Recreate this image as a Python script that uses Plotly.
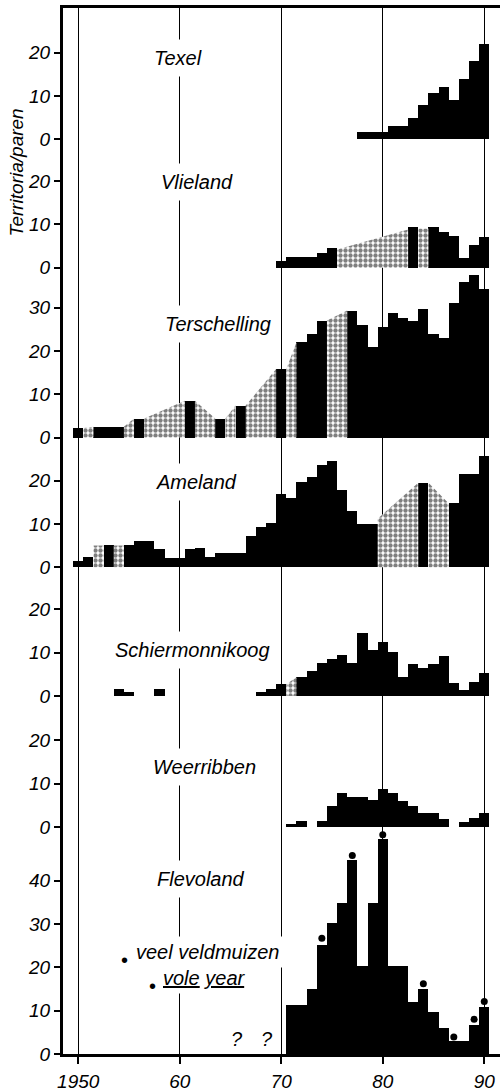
import plotly.graph_objects as go

# ---------------- data (territories / pairs per year) ----------------
texel_years = list(range(1978, 1991))
texel_values = [1.8, 1.8, 1.8, 3, 3, 5, 8, 10.6, 12, 9, 14, 18, 22]
texel_stipple = []

vlieland_years = [1970, 1971, 1972, 1973, 1974, 1975, 1983, 1985, 1986, 1987, 1988, 1989, 1990]
vlieland_values = [1.5, 2.4, 2.4, 2.4, 3.3, 4.6, 9.3, 9.3, 8.3, 7.2, 2.2, 5.2, 7.0]
vlieland_stipple = [(1975.5, 4.2, 1982.5, 8.8), (1983.5, 9.0, 1984.5, 9.0)]

terschelling_years = [1950, 1952, 1953, 1954, 1956, 1961, 1964, 1966, 1970, 1972, 1973, 1974,
                      1977, 1978, 1979, 1980, 1981, 1982, 1983, 1984, 1985, 1986, 1987, 1988, 1989, 1990]
terschelling_values = [2.2, 2.5, 2.5, 2.5, 4.4, 8.5, 4.4, 7.4, 15.8, 22, 24, 27,
                       29.3, 26, 21, 25.5, 28.7, 27.5, 26.8, 29.6, 24, 23, 31, 35.8, 37.4, 34.3]
terschelling_stipple = [(1950.5, 2.2, 1951.5, 2.5), (1954.5, 2.5, 1955.5, 4.4),
                        (1956.5, 4.4, 1960.5, 8.5), (1961.5, 8.5, 1963.5, 4.4),
                        (1964.5, 4.4, 1965.5, 7.4), (1966.5, 7.4, 1969.5, 15.8),
                        (1970.5, 15.8, 1971.5, 22), (1974.5, 27, 1976.5, 29.3)]

ameland_years = [1950, 1951, 1953, 1955, 1956, 1957, 1958, 1959, 1960, 1961, 1962, 1963, 1964, 1965,
                 1966, 1967, 1968, 1969, 1970, 1971, 1972, 1973, 1974, 1975, 1976, 1977, 1978, 1979,
                 1984, 1987, 1988, 1989, 1990]
ameland_values = [1.5, 2.4, 5.2, 5.1, 6.1, 6.1, 4.2, 2.2, 2.2, 4.2, 4.4, 2.4, 3.3, 3.3,
                  3.3, 7.2, 9.2, 10.3, 17, 16, 19.7, 20.8, 23.5, 24.5, 17.7, 12.9, 10, 10,
                  19.5, 14.7, 21.5, 21.5, 25.6]
ameland_stipple = [(1951.5, 5.0, 1952.5, 5.0), (1953.5, 5.0, 1954.5, 5.0),
                   (1979.5, 11.2, 1983.5, 19.5), (1984.5, 19.5, 1986.5, 14.7)]

schier_years = [1954, 1955, 1958, 1968, 1969, 1970, 1972, 1973, 1974, 1975, 1976, 1977, 1978, 1979,
                1980, 1981, 1982, 1983, 1984, 1985, 1986, 1987, 1988, 1989, 1990]
schier_values = [1.5, 0.8, 1.6, 0.9, 1.5, 2.7, 4.3, 5.8, 7.7, 8.5, 9.5, 7.5, 14.5, 10.6,
                 12.5, 10.2, 4.3, 7.3, 6.4, 7.3, 9.2, 3.1, 1.4, 3.2, 5.2]
schier_stipple = [(1970.5, 2.7, 1971.5, 4.3)]

weer_years = [1971, 1972, 1974, 1975, 1976, 1977, 1978, 1979, 1980, 1981, 1982, 1983, 1984, 1985,
              1986, 1988, 1989, 1990]
weer_values = [0.6, 1.4, 1.4, 4.8, 7.9, 6.9, 6.9, 6.2, 8.8, 7.9, 6.0, 4.8, 3.1, 3.1,
               1.8, 1.1, 2.1, 3.1]
weer_stipple = []

flevo_years = list(range(1971, 1991))
flevo_values = [11.3, 11.3, 15, 25.2, 30.2, 34.8, 44.7, 20.2, 34.8, 49.6, 20.2, 20.2, 12.1, 15,
                9.8, 5.9, 2.9, 2.9, 6.7, 10.9]
flevo_stipple = []

vole_years = [1974, 1977, 1980, 1984, 1987, 1989, 1990]
vole_values = [26.7, 45.8, 50.6, 16.2, 3.9, 8.0, 12.1]

panel_names = ["Texel", "Vlieland", "Terschelling", "Ameland", "Schiermonnikoog", "Weerribben", "Flevoland"]
panel_ticks = [[0, 10, 20], [0, 10, 20], [0, 10, 20, 30], [0, 10, 20], [0, 10, 20], [0, 10, 20],
               [0, 10, 20, 30, 40]]
x_tick_years = [1950, 1960, 1970, 1980, 1990]
x_tick_labels = ["1950", "60", "70", "80", "90"]

# ---------------- layout of the stacked panels (one shared value scale) ----------------
panel_base = [211.0, 181.4, 142.2, 112.3, 82.6, 52.4, 0.0]
label_pos = [(1959.85, 18.8), (1961.7, 19.8), (1963.8, 26.2), (1961.7, 19.6),
             (1961.3, 10.6), (1962.4, 13.8), (1962.1, 40.4)]
Y_TOP = 241.3
X_RANGE = [1948.5, 1991.55]

series = [
    (texel_years, texel_values, texel_stipple),
    (vlieland_years, vlieland_values, vlieland_stipple),
    (terschelling_years, terschelling_values, terschelling_stipple),
    (ameland_years, ameland_values, ameland_stipple),
    (schier_years, schier_values, schier_stipple),
    (weer_years, weer_values, weer_stipple),
    (flevo_years, flevo_values, flevo_stipple),
]

FONT = "Liberation Sans"
fig = go.Figure()

for (yrs, vals, stip), base in zip(series, panel_base):
    fig.add_trace(go.Bar(x=yrs, y=vals, base=base, width=1.0,
                         marker=dict(color="black", line=dict(width=0)),
                         showlegend=False, hoverinfo="skip"))
    for (x0, y0, x1, y1) in stip:
        fig.add_trace(go.Scatter(
            x=[x0, x0, x1, x1, x0], y=[base, base + y0, base + y1, base, base],
            mode="lines", line=dict(width=0, color="black"), fill="toself",
            fillcolor="white",
            fillpattern=dict(shape=".", fgcolor="black", bgcolor="white", size=5, solidity=0.6),
            showlegend=False, hoverinfo="skip"))

# vole years (dots above Flevoland bars)
fig.add_trace(go.Scatter(x=vole_years, y=[v + panel_base[6] for v in vole_values], mode="markers",
                         marker=dict(color="black", size=7), showlegend=False, hoverinfo="skip"))

# y ticks
tickvals, ticktext = [], []
for ticks, base in zip(panel_ticks, panel_base):
    for t in ticks:
        tickvals.append(base + t)
        ticktext.append(str(t))

# panel labels
for name, (lx, ly), base in zip(panel_names, label_pos, panel_base):
    fig.add_annotation(x=lx, y=base + ly, xref="x", yref="y", text=name, showarrow=False,
                       font=dict(family=FONT, size=20, color="black", style="italic"),
                       bgcolor="white", borderpad=7)

# legend text for vole years
fig.add_annotation(x=1955.2, y=23.5, xref="x", yref="y", xanchor="left",
                   text="veel veldmuizen", showarrow=False, bgcolor="white", borderpad=4,
                   font=dict(family=FONT, size=20, color="black", style="italic"))
fig.add_annotation(x=1957.9, y=17.6, xref="x", yref="y", xanchor="left",
                   text="<u>vole</u> <u>year</u>", showarrow=False, bgcolor="white", borderpad=4,
                   font=dict(family=FONT, size=20, color="black", style="italic"))
fig.add_annotation(x=1954.6, y=21.6, xref="x", yref="y", text="•", showarrow=False,
                   font=dict(family=FONT, size=20, color="black"))
fig.add_annotation(x=1957.3, y=15.6, xref="x", yref="y", text="•", showarrow=False,
                   font=dict(family=FONT, size=20, color="black"))
for qx in (1965.6, 1968.6):
    fig.add_annotation(x=qx, y=3.5, xref="x", yref="y", text="?", showarrow=False,
                       font=dict(family=FONT, size=20, color="black", style="italic"))

# y title
fig.add_annotation(x=-0.107, y=0.843, xref="paper", yref="paper", text="Territoria/paren",
                   textangle=-90, showarrow=False, xanchor="center", yanchor="middle",
                   font=dict(family=FONT, size=19, color="black", style="italic"))

fig.update_layout(
    width=500, height=1092,
    margin=dict(l=63, r=0, t=8, b=38, autoexpand=False),
    paper_bgcolor="white", plot_bgcolor="white",
    barmode="overlay", bargap=0,
    showlegend=False,
    xaxis=dict(range=X_RANGE, tickvals=x_tick_years, ticktext=x_tick_labels, automargin=False,
               showgrid=True, gridcolor="black", gridwidth=1, zeroline=False,
               showline=True, linecolor="black", linewidth=3, mirror=True,
               ticks="outside", ticklen=7, tickwidth=1.5, tickcolor="black",
               ticklabelstandoff=1,
               tickfont=dict(family=FONT, size=19, color="black", style="italic")),
    yaxis=dict(range=[0, Y_TOP], tickvals=tickvals, ticktext=ticktext, automargin=False,
               showgrid=False, zeroline=False,
               showline=True, linecolor="black", linewidth=3, mirror=False,
               ticks="outside", ticklen=6, tickwidth=1.5, tickcolor="black",
               tickfont=dict(family=FONT, size=19, color="black", style="italic")),
)

fig.write_html("out.html", config={"displayModeBar": False},
               post_script="document.body.style.margin='0';document.body.style.padding='0';"
                           "document.body.style.overflow='hidden';")
